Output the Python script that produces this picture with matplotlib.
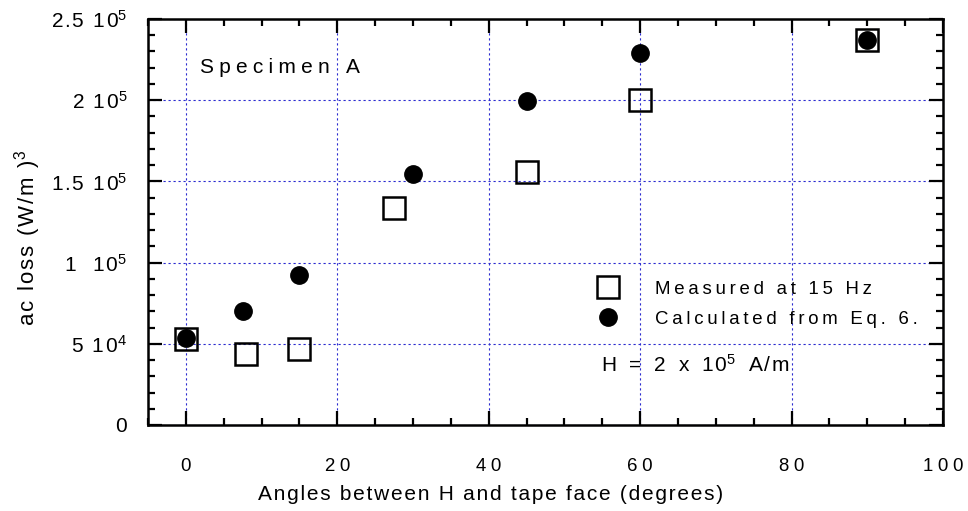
import matplotlib
matplotlib.use('Agg')
import matplotlib.pyplot as plt
from matplotlib.ticker import FixedLocator, FixedFormatter, MultipleLocator

plt.rcParams['font.family'] = ['Liberation Sans', 'DejaVu Sans']
plt.rcParams['mathtext.fontset'] = 'custom'
plt.rcParams['mathtext.rm'] = 'Liberation Sans'
plt.rcParams['mathtext.it'] = 'Liberation Sans'

# data
angle_meas = [0, 8, 15, 27.5, 45, 60, 90]
loss_meas = [5.3e4, 4.35e4, 4.7e4, 1.335e5, 1.56e5, 2.0e5, 2.37e5]
angle_calc = [0, 7.5, 15, 30, 45, 60, 90]
loss_calc = [5.35e4, 7.0e4, 9.25e4, 1.545e5, 1.995e5, 2.29e5, 2.37e5]

xticks = [0, 20, 40, 60, 80, 100]
yticks = [0, 5e4, 1e5, 1.5e5, 2e5, 2.5e5]
ytick_text = [('0', ''), ('5 10', '4'), ('1  10', '5'), ('1.5 10', '5'),
              ('2 10', '5'), ('2.5 10', '5')]

THIN = '\u2009'
HAIR = '\u200a'
WIDE = '\u2005'


def spaced(s, sep=THIN):
    return sep.join(s)


def ylab(base, exp):
    if not exp:
        return base
    return spaced(base, HAIR) + '$^{' + exp + '}$'


fig = plt.figure(figsize=(9.68, 5.11), dpi=100)
ax = fig.add_axes([0.1529, 0.1683, 0.8213, 0.7945])

ax.plot(angle_meas, loss_meas, linestyle='none', marker='s', markersize=15.5,
        markerfacecolor='none', markeredgecolor='black', markeredgewidth=1.8,
        label=spaced('Measured at 15 Hz'), zorder=3)
ax.plot(angle_calc, loss_calc, linestyle='none', marker='o', markersize=12.5,
        color='black', label=spaced('Calculated from Eq. 6.'), zorder=4)

ax.set_xlim(-5, 100)
ax.set_ylim(0, 2.5e5)

ax.xaxis.set_major_locator(FixedLocator(xticks))
ax.xaxis.set_minor_locator(MultipleLocator(5))
ax.set_xticklabels([spaced(str(t), WIDE) for t in xticks])
ax.yaxis.set_major_locator(FixedLocator(yticks))
ax.yaxis.set_minor_locator(MultipleLocator(1e4))
ax.yaxis.set_major_formatter(FixedFormatter([ylab(b, e) for b, e in ytick_text]))

ax.tick_params(which='both', direction='in', top=True, right=True, width=1.6)
ax.tick_params(which='major', length=10)
ax.tick_params(which='minor', length=5)
ax.tick_params(axis='x', which='major', labelsize=13.4, pad=24)
ax.tick_params(axis='y', which='major', labelsize=15, pad=15)
for sp in ax.spines.values():
    sp.set_linewidth(1.8)

ax.grid(True, which='major', color='#2b2bd0', linestyle=(0, (2.0, 2.5)), linewidth=0.8)
ax.set_axisbelow(True)

fig.text(491 / 968, 1 - 494 / 511, spaced('Angles between H and tape face (degrees)', HAIR),
         fontsize=15, ha='center', va='center')
fig.text(28 / 968, 1 - 238 / 511, spaced('ac loss (W/m )', HAIR) + '$^{3}$', fontsize=16,
         rotation=90, ha='center', va='center')

ax.text(1.85, 2.1675e5, spaced('Specimen A', WIDE), fontsize=15, va='baseline', ha='left')
h_text = spaced('H = 2 x 10', HAIR).replace(HAIR + ' ' + HAIR, HAIR * 2 + ' ' + HAIR * 2)
h_unit = spaced(' A/m', HAIR).replace(' ' + HAIR, ' ' + HAIR * 2)
ax.text(54.8, 3.28e4, h_text + '$^{5}$' + HAIR * 2 + h_unit,
        fontsize=15, va='baseline', ha='left')

ax.legend(loc='upper left', bbox_to_anchor=(0.567, 0.355), frameon=False,
          fontsize=13.4, handlelength=1.0, handletextpad=2.03,
          borderpad=0, borderaxespad=0, labelspacing=0.68)

fig.savefig('out.png', dpi=100)
